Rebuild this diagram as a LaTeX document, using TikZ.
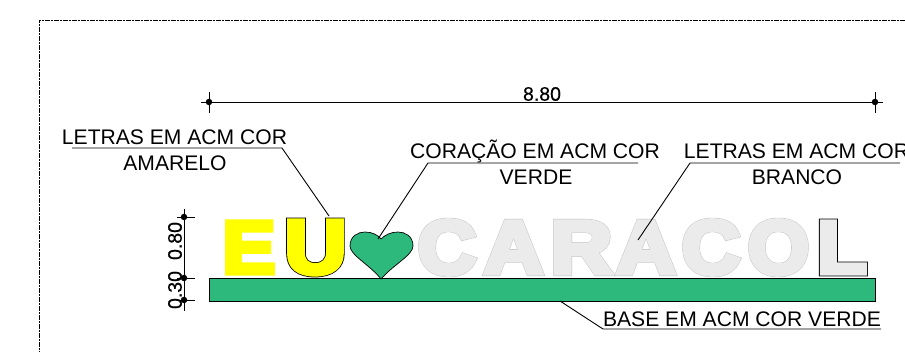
\documentclass[tikz,border=0pt]{standalone}
\usepackage{fontspec}
\usepackage{graphicx}
\setmainfont{Liberation Sans}
\newfontfamily\signfill[FakeBold=6.5]{Liberation Sans Bold}
\newfontfamily\signedge[FakeBold=7.5]{Liberation Sans Bold}
\newfontfamily\signline[FakeBold=8.5]{Liberation Sans Bold}
\newfontfamily\dimfont[FakeBold=0.5]{Liberation Sans}
\definecolor{basegreen}{HTML}{2DB97B}
\definecolor{signyellow}{HTML}{FFFF00}
\definecolor{signgray}{HTML}{EBEBEB}
\definecolor{signdash}{HTML}{BEBEBE}
\newcommand{\fitfill}[3]{\resizebox{#1pt}{#2pt}{\fontsize{80}{80}\signfill #3}}
\newcommand{\fitedge}[3]{\resizebox{#1pt}{#2pt}{\fontsize{80}{80}\signedge #3}}
\newcommand{\fitline}[3]{\resizebox{#1pt}{#2pt}{\fontsize{80}{80}\signline #3}}
\tikzset{
	sign/.style={inner sep=0pt, outer sep=0pt},
	callout/.style={inner sep=0pt, font=\fontsize{21.1}{21.1}\selectfont, text=black},
	dimtext/.style={inner sep=0pt, font=\fontsize{19.5}{19.5}\dimfont, text=black},
	leader/.style={draw=black, line width=0.9pt},
	dimline/.style={draw=black, line width=0.7pt},
	dimdot/.style={circle, fill=black, inner sep=0pt, minimum size=6.5pt}
}

\begin{document}
\begin{tikzpicture}[x=1pt,y=-1pt]
		\useasboundingbox (0,0) rectangle (905,352);
		\clip (0,0) rectangle (905,352);
		\fill[white] (0,0) rectangle (905,352);
		% sheet border
		\draw[black, line width=0.5pt, dash pattern=on 5pt off 1pt on 2pt off 1pt] (905,20) -- (39,20) -- (39,352);
		% base
		\draw[fill=basegreen, line width=0.9pt] (209,278) rectangle (875,301);
		\coordinate (basefoot) at (560,301);
		% letters
		\node[sign, text=signyellow] (e) at (249,247.5) {\fitfill{53}{51.5}{E}};
		\node[sign, text=black] (uedge) at (315.5,247.5) {\fitline{61.5}{52.5}{U}};
		\node[sign, text=signyellow] (u) at (315.5,247.5) {\fitfill{61.5}{52.5}{U}};
		\node[sign, text=signdash] (c1edge) at (447,247.5) {\fitedge{58}{53}{C}};
		\node[sign, text=signgray] (c1) at (447,247.5) {\fitfill{58}{53}{C}};
		\node[sign, text=signdash] (a1edge) at (513.5,247.5) {\fitedge{59}{51.5}{A}};
		\node[sign, text=signgray] (a1) at (513.5,247.5) {\fitfill{59}{51.5}{A}};
		\node[sign, text=signdash] (redge) at (581.5,247.5) {\fitedge{61}{51.5}{R}};
		\node[sign, text=signgray] (r) at (581.5,247.5) {\fitfill{61}{51.5}{R}};
		\node[sign, text=signdash] (a2edge) at (646,247.5) {\fitedge{59}{51.5}{A}};
		\node[sign, text=signgray] (a2) at (646,247.5) {\fitfill{59}{51.5}{A}};
		\node[sign, text=signdash] (c2edge) at (711,247.5) {\fitedge{58}{53}{C}};
		\node[sign, text=signgray] (c2) at (711,247.5) {\fitfill{58}{53}{C}};
		\node[sign, text=signdash] (oedge) at (778.5,247.5) {\fitedge{61}{53}{O}};
		\node[sign, text=signgray] (o) at (778.5,247.5) {\fitfill{61}{53}{O}};
		\node[sign, text=black] (ledge) at (842,247.5) {\fitline{50}{51.5}{L}};
		\node[sign, text=signgray] (l) at (842,247.5) {\fitfill{50}{51.5}{L}};
		% heart
		\draw[fill=basegreen, line width=0.7pt] (381,279) .. controls (370,265) and (350,255) .. (350,246) .. controls (350,236) and (358,232) .. (365,232) .. controls (372,232) and (378,235) .. (381,239) .. controls (385,235) and (391,232) .. (398,232) .. controls (405,232) and (413,236) .. (413,246) .. controls (413,255) and (393,265) .. (381,279) -- cycle;
		% overall dimension
		\node[dimdot] (dimleft) at (209,102) {};
		\node[dimdot] (dimright) at (875,102) {};
		\coordinate (dimleftout) at (201,102);
		\coordinate (dimrightout) at (883,102);
		\draw[dimline] (dimleftout) -- (dimrightout);
		\draw[dimline] (209,92) -- (209,113);
		\draw[dimline] (875,92) -- (875,113);
		\node[dimtext] (width) at (542,94) {8.80};
		% height dimensions
		\node[dimdot] (dimtop) at (184,217) {};
		\node[dimdot] (dimmid) at (184,278) {};
		\node[dimdot] (dimbot) at (184,300) {};
		\coordinate (dimtopout) at (184,209);
		\coordinate (dimbotout) at (184,311);
		\draw[dimline] (dimtopout) -- (dimbotout);
		\draw[dimline] (177,217) -- (195,217);
		\draw[dimline] (177,278) -- (195,278);
		\draw[dimline] (177,300) -- (195,300);
		\node[dimtext, rotate=90] (hsign) at (175,241) {0.80};
		\node[dimtext, rotate=90] (hbase) at (175,290) {0.30};
		% callouts
		\node[callout] (amarelo1) at (174.5,137) {LETRAS EM ACM COR};
		\node[callout] (amarelo2) at (175,163) {AMARELO};
		\coordinate (amareloa) at (72,148);
		\coordinate (amarelob) at (282,148);
		\coordinate (amareloc) at (329,216);
		\draw[leader] (amareloa) -- (amarelob) -- (amareloc);
		\node[callout] (verde1) at (535,151) {CORAÇÃO EM ACM COR};
		\node[callout] (verde2) at (536,177) {VERDE};
		\coordinate (verdea) at (638,163);
		\coordinate (verdeb) at (428,163);
		\coordinate (verdec) at (378,239);
		\draw[leader] (verdea) -- (verdeb) -- (verdec);
		\node[callout] (branco1) at (796.5,151) {LETRAS EM ACM COR};
		\node[callout] (branco2) at (797,177) {BRANCO};
		\coordinate (brancoa) at (900,163);
		\coordinate (brancob) at (690,163);
		\coordinate (brancoc) at (638,240);
		\draw[leader] (brancoa) -- (brancob) -- (brancoc);
		\node[callout] (base) at (742,319) {BASE EM ACM COR VERDE};
		\coordinate (basea) at (881,329);
		\coordinate (baseb) at (603,329);
		\draw[leader] (basea) -- (baseb) -- (basefoot);
\end{tikzpicture}
\end{document}
